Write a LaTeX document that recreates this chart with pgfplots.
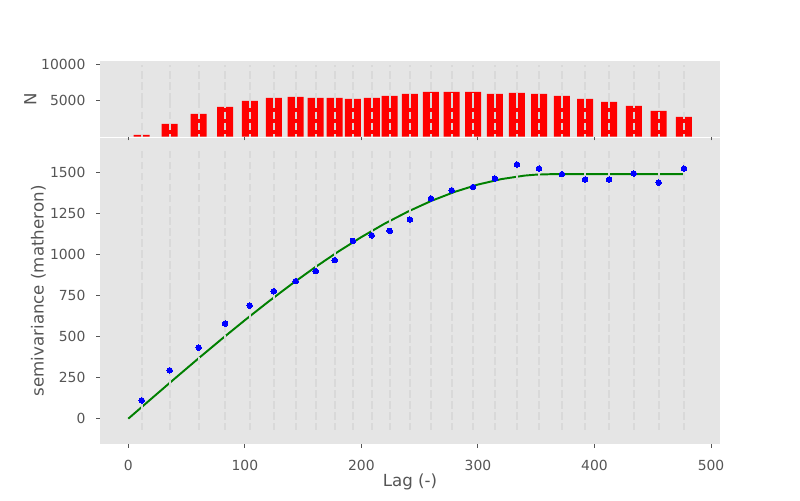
\documentclass[border=0pt]{standalone}
\usepackage{pgfplots}
\pgfplotsset{compat=1.18}
\usepackage{pgfplotstable}
\usepackage{fontspec}
\setmainfont{DejaVu Sans}

\definecolor{panel}{HTML}{E5E5E5}
\definecolor{txt}{HTML}{555555}
\definecolor{binline}{HTML}{D9D9D9}
\definecolor{mgreen}{HTML}{008000}

% lag classes: centre and number of point pairs
\pgfplotstableread{
lag   count
11.5  236
35.5  1761
60.4  3148
83.0  4119
104.2 4951
124.8 5367
143.6 5506
160.8 5367
177.1 5367
192.6 5229
208.9 5367
224.3 5645
241.6 5922
259.7 6200
277.5 6200
295.8 6200
314.6 5922
333.5 6061
352.4 5922
372.1 5645
391.9 5229
412.5 4813
433.7 4258
455.1 3565
476.8 2732
}\bins

% experimental semivariance
\pgfplotstableread{
lag   gamma
11.5  111
35.5  294
60.4  432
83.0  578
104.2 688
124.8 775
143.6 836
160.8 897
177.1 964
192.6 1081
208.9 1115
224.3 1142
241.6 1211
259.7 1339
277.5 1389
295.8 1409
314.6 1460
333.5 1546
352.4 1521
372.1 1487
391.9 1454
412.5 1454
433.7 1491
455.1 1436
476.8 1521
}\exper

% fitted model
\pgfplotstableread{
lag   gamma
0     0
10    61.4
20    122.8
40    244.8
60    365.3
80    483.6
100   598.9
120   710.5
140   817.6
160   919.5
180   1015.4
200   1104.5
220   1186.3
240   1259.7
260   1324.5
280   1379.2
300   1423.8
320   1456.9
340   1478.3
350   1484.2
363   1487
476.8 1487
}\model

\pgfplotsset{
  vario/.style={
    scale only axis, width=446.4pt,
    xmin=-24.3, xmax=507.7,
    axis background/.style={fill=panel},
    axis line style={draw=none},
    tick align=outside, tick pos=left,
    major tick length=2.6pt,
    every tick/.style={draw=txt, line width=0.7pt},
    tick label style={font=\fontsize{10}{12}\selectfont, text=txt, inner sep=0pt},
    xticklabel style={yshift=-8.4pt},
    yticklabel style={xshift=-7.7pt},
    /pgf/number format/assume math mode=true,
    /pgf/number format/1000 sep={},
    scaled y ticks=false,
    every axis x label/.style={at={(axis description cs:0.5,-0.1218)}, anchor=center,
      font=\fontsize{12}{14}\selectfont, text=txt},
    every axis y label/.style={rotate=90, anchor=center,
      font=\fontsize{12}{14}\selectfont, text=txt},
    xtick={0,100,...,500},
  },
  binlines/.style={draw=none, mark=none, forget plot,
    error bars/.cd, y dir=both, y fixed=#1, error mark=none,
    error bar style={draw=binline, line width=1.5pt, dash pattern=on 5.55pt off 2.4pt}},
}

\begin{document}
\begin{tikzpicture}
\path[use as bounding box] (-72pt,-40.1pt) rectangle (504pt,319.9pt);

\begin{axis}[vario, at={(0,0)}, anchor=south west, height=220.9pt,
  ymin=-156, ymax=1710, ytick={0,250,...,1500},
  xlabel={Lag (-)}, ylabel={semivariance (matheron)},
  ylabel style={at={(axis description cs:-0.0995,0.5)}}]
\addplot[mgreen, line width=1.4pt] table[x=lag, y=gamma] {\model};
\addplot[only marks, mark=*, mark size=2pt, mark options={fill=blue, draw=blue, line width=0pt}] table[x=lag, y=gamma] {\exper};
\addplot[binlines=848.5] table[x=lag, y expr=777.5] {\bins};
\end{axis}

\begin{axis}[vario, at={(0,221.5pt)}, anchor=south west, height=54.5pt,
  ymin=0, ymax=10500, ytick={5000,10000}, xticklabels={},
  ylabel={N},
  ylabel style={at={(axis description cs:-0.1125,0.5)}}]
\addplot[ybar, bar width=13.73, bar shift=0pt, fill=red, draw=none] table[x=lag, y=count] {\bins};
\addplot[binlines=5000] table[x=lag, y expr=5000] {\bins};
\end{axis}
\end{tikzpicture}
\end{document}
